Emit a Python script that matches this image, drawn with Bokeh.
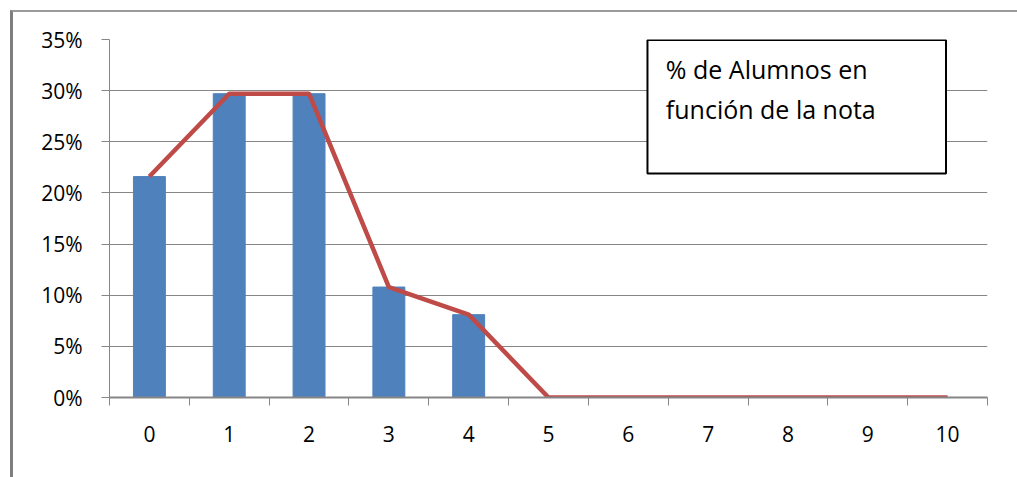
from bokeh.plotting import figure
from bokeh.models import Range1d, FixedTicker, NumeralTickFormatter
from bokeh.core.properties import value
from bokeh.embed import file_html
from bokeh.resources import INLINE

notas = [0, 1, 2, 3, 4, 5, 6, 7, 8, 9, 10]
porcentaje = [0.216, 0.297, 0.297, 0.108, 0.081, 0, 0, 0, 0, 0, 0]
bar_notas = [0, 1, 2, 3, 4]
bar_vals = [0.216, 0.297, 0.297, 0.108, 0.081]
y_ticks = [0, 0.05, 0.10, 0.15, 0.20, 0.25, 0.30, 0.35]
titulo = ["% de Alumnos en", "función de la nota"]

FONT = "Open Sans"
GRID = "#868686"

p = figure(width=1007, height=467, output_backend="svg", toolbar_location=None,
           x_range=Range1d(-0.5, 10.5), y_range=Range1d(0, 0.35),
           min_border_left=96, min_border_right=33, min_border_top=27, min_border_bottom=82)
p.margin = (10, 0, 0, 10)
p.styles = {"border-left": "3px solid #7f7f7f", "border-top": "2px solid #9a9a9a"}
p.outline_line_color = None
p.background_fill_color = "white"

p.vbar(x=bar_notas, top=bar_vals, width=0.4, color="#4F81BD")
p.line(x=notas, y=porcentaje, line_color="#BE4B48", line_width=4.5)

# axes
p.xaxis.ticker = FixedTicker(ticks=notas, minor_ticks=[n - 0.5 for n in notas] + [10.5])
p.xaxis.major_tick_line_color = None
p.xaxis.minor_tick_in = 0
p.xaxis.minor_tick_out = 8
p.xaxis.minor_tick_line_color = GRID
p.xaxis.axis_line_color = GRID
p.xaxis.axis_line_width = 2
p.xaxis.major_label_standoff = 20
p.xaxis.major_label_text_font = FONT
p.xaxis.major_label_text_font_size = "21px"
p.xaxis.major_label_text_color = "black"

p.yaxis.ticker = FixedTicker(ticks=y_ticks)
p.yaxis.formatter = NumeralTickFormatter(format="0%")
p.yaxis.minor_tick_line_color = None
p.yaxis.major_tick_in = 0
p.yaxis.major_tick_out = 8
p.yaxis.major_tick_line_color = GRID
p.yaxis.axis_line_color = GRID
p.yaxis.major_label_standoff = 19
p.yaxis.major_label_text_font = FONT
p.yaxis.major_label_text_font_size = "21px"
p.yaxis.major_label_text_color = "black"

p.xgrid.grid_line_color = None
p.ygrid.grid_line_color = GRID
p.ygrid.ticker = FixedTicker(ticks=y_ticks)

# text box
p.quad(left=[6.24], right=[9.98], bottom=[0.219], top=[0.3495],
       fill_color="white", line_color="black", line_width=2)
p.text(x=[6.47, 6.47], y=[0.3215, 0.2825], text=titulo, text_font=value(FONT),
       text_font_size="25px", text_color="black", text_baseline="middle")

open("out.html", "w").write(file_html(p, INLINE))
